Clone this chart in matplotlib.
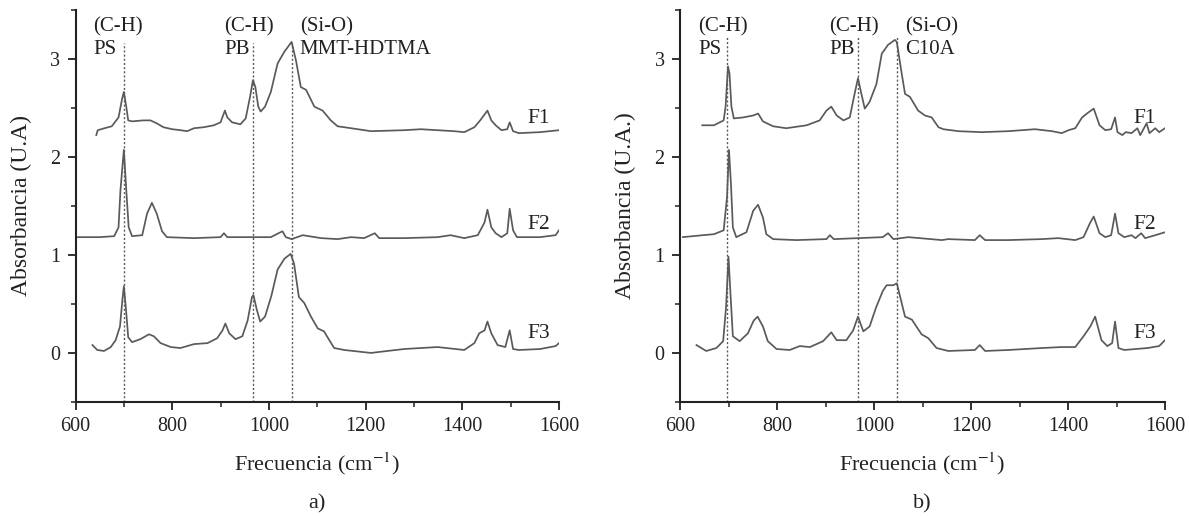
import matplotlib
matplotlib.use("Agg")
import matplotlib.pyplot as plt
from matplotlib.ticker import MultipleLocator

plt.rcParams['font.family'] = ['Liberation Serif', 'DejaVu Serif']
plt.rcParams['mathtext.fontset'] = 'stix'

# ---- panel a) : MMT-HDTMA ----
freq_a_f1 = [643, 646, 660, 675, 689, 696, 700, 705, 709, 717, 740, 755, 768, 782, 800, 817, 831, 845,
             865, 886, 900, 909, 914, 924, 941, 952, 961, 967, 972, 978, 983, 992, 1004, 1018, 1032,
             1047, 1056, 1066, 1077, 1094, 1111, 1128, 1142, 1170, 1211, 1280, 1314, 1383, 1404, 1425,
             1437, 1452, 1460, 1469, 1481, 1493, 1498, 1505, 1517, 1561, 1600]
abs_a_f1 = [2.22, 2.27, 2.29, 2.31, 2.40, 2.58, 2.66, 2.51, 2.37, 2.36, 2.37, 2.37, 2.34, 2.30, 2.28,
            2.27, 2.26, 2.29, 2.30, 2.32, 2.35, 2.47, 2.40, 2.35, 2.33, 2.39, 2.61, 2.78, 2.71, 2.51,
            2.46, 2.51, 2.66, 2.95, 3.07, 3.17, 2.98, 2.71, 2.68, 2.51, 2.47, 2.37, 2.31, 2.29, 2.26,
            2.27, 2.28, 2.26, 2.25, 2.30, 2.37, 2.47, 2.37, 2.32, 2.27, 2.28, 2.35, 2.26, 2.24, 2.25,
            2.27]

freq_a_f2 = [605, 650, 680, 689, 693, 700, 705, 710, 717, 738, 748, 758, 768, 779, 789, 845, 900, 907,
             914, 968, 1004, 1028, 1035, 1047, 1070, 1108, 1142, 1170, 1197, 1219, 1228, 1280, 1349,
             1376, 1404, 1432, 1446, 1452, 1460, 1469, 1481, 1493, 1498, 1505, 1513, 1561, 1593, 1600]
abs_a_f2 = [1.18, 1.18, 1.19, 1.28, 1.66, 2.07, 1.66, 1.28, 1.19, 1.20, 1.42, 1.53, 1.42, 1.24, 1.18,
            1.17, 1.18, 1.22, 1.18, 1.18, 1.18, 1.24, 1.18, 1.16, 1.20, 1.17, 1.16, 1.18, 1.17, 1.22,
            1.17, 1.17, 1.18, 1.20, 1.17, 1.20, 1.33, 1.46, 1.28, 1.22, 1.18, 1.22, 1.47, 1.25, 1.18,
            1.18, 1.20, 1.25]

freq_a_f3 = [635, 645, 659, 673, 683, 692, 697, 700, 704, 709, 717, 734, 752, 762, 776, 797, 817, 845,
             873, 893, 904, 910, 918, 931, 945, 956, 965, 968, 975, 982, 992, 1005, 1018, 1032, 1045,
             1052, 1062, 1073, 1087, 1101, 1114, 1125, 1135, 1156, 1211, 1245, 1280, 1349, 1404, 1425,
             1435, 1446, 1452, 1460, 1473, 1489, 1498, 1505, 1517, 1561, 1593, 1600]
abs_a_f3 = [0.08, 0.03, 0.02, 0.06, 0.13, 0.27, 0.54, 0.68, 0.47, 0.16, 0.11, 0.14, 0.19, 0.17, 0.10,
            0.06, 0.05, 0.09, 0.10, 0.15, 0.23, 0.30, 0.20, 0.14, 0.17, 0.33, 0.57, 0.59, 0.44, 0.32,
            0.37, 0.58, 0.85, 0.96, 1.01, 0.91, 0.57, 0.51, 0.37, 0.25, 0.22, 0.13, 0.05, 0.03, 0.00,
            0.02, 0.04, 0.06, 0.03, 0.10, 0.20, 0.23, 0.32, 0.20, 0.08, 0.06, 0.23, 0.04, 0.03, 0.04,
            0.07, 0.10]

# ---- panel b) : C10A ----
freq_b_f1 = [646, 670, 690, 694, 699, 702, 706, 711, 730, 751, 761, 771, 792, 819, 861, 888, 902, 912,
             923, 937, 950, 960, 967, 974, 981, 991, 1005, 1016, 1029, 1043, 1047, 1057, 1064, 1074,
             1091, 1105, 1119, 1133, 1143, 1174, 1222, 1277, 1332, 1367, 1387, 1401, 1415, 1429, 1439,
             1453, 1465, 1477, 1489, 1497, 1502, 1512, 1519, 1531, 1543, 1549, 1562, 1568, 1580, 1588,
             1600]
abs_b_f1 = [2.32, 2.32, 2.37, 2.51, 2.92, 2.85, 2.51, 2.39, 2.40, 2.42, 2.44, 2.36, 2.31, 2.29, 2.32,
            2.37, 2.47, 2.51, 2.42, 2.37, 2.40, 2.64, 2.80, 2.64, 2.49, 2.56, 2.74, 3.05, 3.14, 3.19,
            3.17, 2.85, 2.64, 2.61, 2.47, 2.42, 2.40, 2.30, 2.28, 2.26, 2.25, 2.26, 2.28, 2.26, 2.24,
            2.27, 2.29, 2.40, 2.44, 2.49, 2.32, 2.27, 2.28, 2.40, 2.25, 2.22, 2.25, 2.24, 2.29, 2.22,
            2.34, 2.24, 2.29, 2.25, 2.29]

freq_b_f2 = [606, 647, 670, 690, 697, 701, 705, 709, 716, 737, 751, 761, 771, 778, 792, 840, 902, 909,
             917, 967, 1018, 1029, 1040, 1071, 1140, 1153, 1208, 1218, 1229, 1277, 1346, 1380, 1415,
             1432, 1446, 1453, 1465, 1477, 1489, 1497, 1504, 1516, 1531, 1539, 1551, 1559, 1580, 1600]
abs_b_f2 = [1.18, 1.20, 1.21, 1.25, 1.59, 2.07, 1.73, 1.28, 1.18, 1.23, 1.45, 1.51, 1.38, 1.21, 1.16,
            1.15, 1.16, 1.20, 1.16, 1.17, 1.18, 1.22, 1.16, 1.18, 1.15, 1.16, 1.15, 1.20, 1.15, 1.15,
            1.16, 1.17, 1.15, 1.18, 1.33, 1.39, 1.22, 1.18, 1.20, 1.42, 1.22, 1.18, 1.20, 1.17, 1.22,
            1.17, 1.20, 1.23]

freq_b_f3 = [634, 654, 675, 689, 695, 700, 704, 709, 723, 740, 752, 760, 771, 781, 799, 826, 847, 868,
             895, 912, 923, 943, 957, 967, 978, 991, 1004, 1018, 1026, 1040, 1047, 1057, 1064, 1078,
             1098, 1112, 1129, 1153, 1208, 1218, 1229, 1277, 1346, 1387, 1415, 1432, 1446, 1456, 1469,
             1481, 1491, 1497, 1504, 1516, 1564, 1588, 1600]
abs_b_f3 = [0.08, 0.02, 0.05, 0.12, 0.47, 0.98, 0.61, 0.17, 0.12, 0.20, 0.33, 0.37, 0.27, 0.12, 0.04,
            0.03, 0.07, 0.06, 0.12, 0.21, 0.13, 0.13, 0.23, 0.37, 0.22, 0.27, 0.46, 0.63, 0.69, 0.69,
            0.71, 0.51, 0.37, 0.34, 0.19, 0.15, 0.05, 0.02, 0.03, 0.08, 0.02, 0.03, 0.05, 0.06, 0.06,
            0.17, 0.27, 0.37, 0.13, 0.07, 0.10, 0.32, 0.05, 0.03, 0.05, 0.07, 0.13]

# band positions (dotted lines)
bands_a = [700, 968, 1047]
bands_b = [697, 968, 1047]
series_names = ["F1", "F2", "F3"]
series_label_y = [2.39, 1.31, 0.20]

W, H = 1189, 516
line_col = "#5a5a5a"
txt_col = "#222222"


def draw_panel(ax, curves, bands, clay, ylabel, tag, band_top):
    for (fr, ab) in curves:
        ax.plot(fr, ab, color=line_col, lw=1.25)
    for b in bands:
        ax.plot([b, b], [-0.5, band_top], color=line_col, lw=1.0, ls=(0, (1.5, 1.5)))

    ax.set_xlim(600, 1600)
    ax.set_ylim(-0.5, 3.5)
    ax.xaxis.set_major_locator(MultipleLocator(200))
    ax.xaxis.set_minor_locator(MultipleLocator(100))
    ax.yaxis.set_major_locator(MultipleLocator(1))
    ax.yaxis.set_minor_locator(MultipleLocator(0.5))
    ax.tick_params(which='major', direction='out', length=6, width=1.3, labelsize=14.5,
                   colors=txt_col, pad=5)
    ax.tick_params(which='minor', direction='out', length=3.5, width=1.1, colors=txt_col)
    for s in ['top', 'right']:
        ax.spines[s].set_visible(False)
    for s in ['left', 'bottom']:
        ax.spines[s].set_linewidth(1.5)
        ax.spines[s].set_color(txt_col)

    # band labels
    ax.text(637, 3.32, "(C-H)", fontsize=15, va='center', color=txt_col)
    ax.text(637, 3.09, "PS", fontsize=15, va='center', color=txt_col)
    ax.text(907, 3.32, "(C-H)", fontsize=15, va='center', color=txt_col)
    ax.text(907, 3.09, "PB", fontsize=15, va='center', color=txt_col)
    ax.text(1064, 3.32, "(Si-O)", fontsize=15, va='center', color=txt_col)
    ax.text(1064, 3.09, clay, fontsize=15, va='center', color=txt_col)

    # series labels
    for name, yy in zip(series_names, series_label_y):
        ax.text(1558, yy, name, fontsize=15.5, ha='center', va='center', color=txt_col)

    ax.set_xlabel("Frecuencia (cm$^{-1}$)", fontsize=16, color=txt_col, labelpad=10)
    ax.set_ylabel(ylabel, fontsize=17, color=txt_col)
    ax.yaxis.set_label_coords(-0.09, 0.5)
    ax.text(0.5, -0.235, tag, transform=ax.transAxes, ha='center', va='top', fontsize=16,
            color=txt_col)


fig = plt.figure(figsize=(W / 100, H / 100), dpi=100)
ax_a = fig.add_axes([75.5 / W, (H - 402) / H, 483.5 / W, 392.5 / H])
ax_b = fig.add_axes([680 / W, (H - 402) / H, 485 / W, 392.5 / H])

draw_panel(ax_a, [(freq_a_f1, abs_a_f1), (freq_a_f2, abs_a_f2), (freq_a_f3, abs_a_f3)],
           bands_a, "MMT-HDTMA", "Absorbancia (U.A)", "a)", 3.16)
draw_panel(ax_b, [(freq_b_f1, abs_b_f1), (freq_b_f2, abs_b_f2), (freq_b_f3, abs_b_f3)],
           bands_b, "C10A", "Absorbancia (U.A.)", "b)", 3.22)

fig.savefig("out.png", dpi=100)
